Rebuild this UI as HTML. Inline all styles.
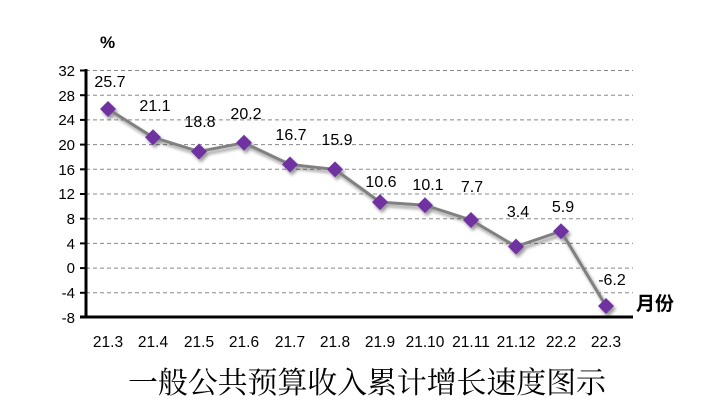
<!DOCTYPE html>
<html><head><meta charset="utf-8"><style>
html,body{margin:0;padding:0;background:#fff;width:708px;height:416px;overflow:hidden}
</style></head><body>
<svg width="708" height="416" xmlns="http://www.w3.org/2000/svg" font-family="Liberation Sans, Noto Sans CJK SC, sans-serif">
<defs><filter id="sh" x="-20%" y="-20%" width="140%" height="140%"><feGaussianBlur in="SourceAlpha" stdDeviation="1.5"/><feOffset dx="2" dy="3"/><feComponentTransfer><feFuncA type="linear" slope="0.4"/></feComponentTransfer><feMerge><feMergeNode/><feMergeNode in="SourceGraphic"/></feMerge></filter></defs>
<g stroke="#888" stroke-width="1" stroke-dasharray="4,3">
<line x1="86" x2="633" y1="70.5" y2="70.5"/><line x1="86" x2="633" y1="95.2" y2="95.2"/><line x1="86" x2="633" y1="119.9" y2="119.9"/><line x1="86" x2="633" y1="144.6" y2="144.6"/><line x1="86" x2="633" y1="169.3" y2="169.3"/><line x1="86" x2="633" y1="194" y2="194"/><line x1="86" x2="633" y1="218.7" y2="218.7"/><line x1="86" x2="633" y1="243.4" y2="243.4"/><line x1="86" x2="633" y1="268.1" y2="268.1"/><line x1="86" x2="633" y1="292.8" y2="292.8"/>
</g>
<g stroke="#000" stroke-width="3"><line x1="86" y1="69" x2="86" y2="318"/><line x1="80" y1="317" x2="633" y2="317"/></g>
<g stroke="#000" stroke-width="2"><line x1="80" x2="86" y1="70.5" y2="70.5"/><line x1="80" x2="86" y1="95.2" y2="95.2"/><line x1="80" x2="86" y1="119.9" y2="119.9"/><line x1="80" x2="86" y1="144.6" y2="144.6"/><line x1="80" x2="86" y1="169.3" y2="169.3"/><line x1="80" x2="86" y1="194" y2="194"/><line x1="80" x2="86" y1="218.7" y2="218.7"/><line x1="80" x2="86" y1="243.4" y2="243.4"/><line x1="80" x2="86" y1="268.1" y2="268.1"/><line x1="80" x2="86" y1="292.8" y2="292.8"/></g>
<g font-size="15" text-anchor="end" fill="#000">
<text x="75" y="76">32</text><text x="75" y="101">28</text><text x="75" y="125">24</text><text x="75" y="150">20</text><text x="75" y="175">16</text><text x="75" y="199">12</text><text x="75" y="224">8</text><text x="75" y="249">4</text><text x="75" y="273">0</text><text x="75" y="298">-4</text><text x="75" y="323">-8</text>
</g>
<text x="100" y="48" font-size="17" font-weight="bold">%</text>
<text x="636" y="310" font-size="19" font-weight="bold" font-family="Noto Sans CJK SC, sans-serif">月份</text>
<g filter="url(#sh)">
<polyline fill="none" stroke="#808080" stroke-width="3" points="108,109 153,137.3 199,151.5 244,142.8 290,164.5 335,169.4 380,202.1 425,205.2 471,220 516,246.6 561,231.2 606,306"/>
<g fill="#7030a0">
<path d="M108,101l8,8l-8,8l-8,-8z"/><path d="M153,129.3l8,8l-8,8l-8,-8z"/><path d="M199,143.5l8,8l-8,8l-8,-8z"/><path d="M244,134.8l8,8l-8,8l-8,-8z"/><path d="M290,156.5l8,8l-8,8l-8,-8z"/><path d="M335,161.4l8,8l-8,8l-8,-8z"/><path d="M380,194.1l8,8l-8,8l-8,-8z"/><path d="M425,197.2l8,8l-8,8l-8,-8z"/><path d="M471,212l8,8l-8,8l-8,-8z"/><path d="M516,238.6l8,8l-8,8l-8,-8z"/><path d="M561,223.2l8,8l-8,8l-8,-8z"/><path d="M606,298l8,8l-8,8l-8,-8z"/>
</g></g>
<g font-size="16" text-anchor="middle" fill="#000">
<text x="110" y="87">25.7</text><text x="155" y="111">21.1</text><text x="200" y="127">18.8</text><text x="246" y="119">20.2</text><text x="291" y="140">16.7</text><text x="337" y="145">15.9</text><text x="381" y="187">10.6</text><text x="428" y="190">10.1</text><text x="472" y="192">7.7</text><text x="518" y="217">3.4</text><text x="563" y="212">5.9</text><text x="612" y="285">-6.2</text>
</g>
<g font-size="15.5" text-anchor="middle" fill="#000">
<text x="108" y="347">21.3</text><text x="153" y="347">21.4</text><text x="199" y="347">21.5</text><text x="244" y="347">21.6</text><text x="290" y="347">21.7</text><text x="335" y="347">21.8</text><text x="380" y="347">21.9</text><text x="425" y="347">21.10</text><text x="471" y="347">21.11</text><text x="516" y="347">21.12</text><text x="561" y="347">22.2</text><text x="606" y="347">22.3</text>
</g>
<text x="367" y="393" font-size="30" text-anchor="middle" font-family="Noto Serif CJK SC, serif" textLength="478">一般公共预算收入累计增长速度图示</text>
</svg>
</body></html>
